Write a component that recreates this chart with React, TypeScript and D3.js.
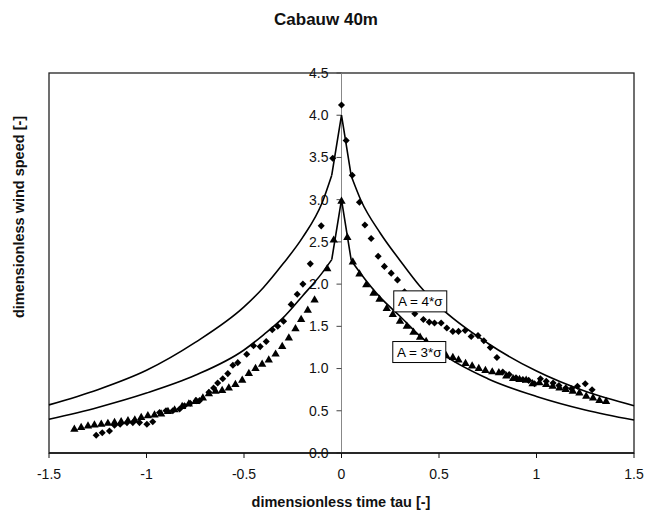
import React from "react";
import * as d3 from "d3";

const title = "Cabauw 40m";
const xTitle = "dimensionless time tau [-]";
const yTitle = "dimensionless wind speed [-]";

const xTicks = [-1.5, -1, -0.5, 0, 0.5, 1, 1.5];
const xTickLabels = ["-1.5", "-1", "-0.5", "0", "0.5", "1", "1.5"];
const yTicks = [0, 0.5, 1, 1.5, 2, 2.5, 3, 3.5, 4, 4.5];
const yTickLabels = ["0.0", "0.5", "1.0", "1.5", "2.0", "2.5", "3.0", "3.5", "4.0", "4.5"];

// model curves
const curveTau = [-1.5, -1.25, -1.0, -0.75, -0.5, -0.4, -0.3, -0.2, -0.1, -0.05, 0, 0.05, 0.1, 0.2, 0.3, 0.4, 0.5, 0.75, 1.0, 1.25, 1.5];
const curveA4 = [0.57, 0.75, 0.98, 1.31, 1.73, 1.96, 2.24, 2.55, 2.96, 3.29, 4.0, 3.28, 2.99, 2.6, 2.28, 1.98, 1.74, 1.3, 0.97, 0.73, 0.56];
const curveA3 = [0.4, 0.54, 0.71, 0.92, 1.22, 1.4, 1.6, 1.86, 2.13, 2.29, 3.0, 2.28, 2.12, 1.84, 1.62, 1.39, 1.2, 0.88, 0.67, 0.51, 0.39];

// measured points: diamonds
const diamondTau = [
  -1.258, -1.227, -1.19, -1.164, -1.135, -1.1, -1.07, -1.036, -0.998, -0.968, -0.933, -0.9, -0.865, -0.83, -0.805,
  -0.776, -0.745, -0.728, -0.68, -0.656, -0.635, -0.609, -0.583, -0.557, -0.532, -0.486, -0.451, -0.417, -0.386,
  -0.355, -0.327, -0.297, -0.258, -0.227, -0.198, -0.16, -0.104, -0.045, 0,
  0.024, 0.055, 0.092, 0.12, 0.152, 0.188, 0.22, 0.255, 0.287, 0.323, 0.349, 0.376, 0.42, 0.45, 0.477, 0.511, 0.54,
  0.571, 0.6, 0.634, 0.665, 0.7, 0.73, 0.763, 0.797, 0.827, 0.86, 0.895, 0.93, 0.96, 0.99, 1.02, 1.05, 1.085, 1.115,
  1.15, 1.18, 1.21, 1.25, 1.285,
];
const diamondVal = [
  0.21, 0.24, 0.26, 0.33, 0.34, 0.36, 0.36, 0.36, 0.34, 0.37, 0.48, 0.5, 0.5, 0.52, 0.56,
  0.59, 0.62, 0.62, 0.72, 0.77, 0.83, 0.88, 0.94, 1.04, 1.07, 1.17, 1.27, 1.26, 1.32,
  1.46, 1.5, 1.56, 1.76, 1.88, 2.0, 2.24, 2.69, 3.49, 4.12,
  3.7, 3.29, 2.97, 2.7, 2.54, 2.33, 2.21, 2.13, 2.05, 1.91, 1.77, 1.65, 1.58, 1.55, 1.54, 1.54, 1.48,
  1.44, 1.44, 1.45, 1.38, 1.39, 1.33, 1.25, 1.13, 0.96, 0.93, 0.89, 0.87, 0.86, 0.82, 0.88, 0.85, 0.83, 0.8,
  0.77, 0.76, 0.79, 0.82, 0.75,
];

// measured points: triangles
const triangleTau = [
  -1.37, -1.335, -1.3, -1.267, -1.232, -1.198, -1.164, -1.13, -1.095, -1.06, -1.027, -0.993, -0.959, -0.925, -0.89,
  -0.856, -0.817, -0.783, -0.749, -0.711, -0.68, -0.646, -0.612, -0.578, -0.544, -0.509, -0.475, -0.441, -0.407,
  -0.373, -0.338, -0.304, -0.27, -0.236, -0.207, -0.173, -0.138, -0.073, -0.04, 0,
  0.03, 0.058, 0.092, 0.127, 0.164, 0.195, 0.232, 0.263, 0.3, 0.335, 0.369, 0.403, 0.434, 0.47, 0.503, 0.537, 0.571,
  0.6, 0.636, 0.67, 0.704, 0.738, 0.773, 0.807, 0.845, 0.88, 0.913, 0.947, 0.98, 1.015, 1.05, 1.083, 1.118, 1.15,
  1.186, 1.22, 1.255, 1.29, 1.323, 1.357,
];
const triangleVal = [
  0.28, 0.3, 0.32, 0.33, 0.34, 0.35, 0.36, 0.37, 0.38, 0.39, 0.42, 0.44, 0.45, 0.46, 0.49,
  0.51, 0.55, 0.58, 0.61, 0.65, 0.7, 0.73, 0.74, 0.77, 0.81, 0.86, 0.94, 1.0, 1.05,
  1.1, 1.17, 1.26, 1.36, 1.47, 1.58, 1.69, 1.81, 2.18, 2.52, 2.98,
  2.55, 2.26, 2.12, 1.99, 1.89, 1.82, 1.71, 1.64, 1.56, 1.5, 1.43, 1.37, 1.32, 1.25, 1.2, 1.15, 1.13,
  1.1, 1.06, 1.03, 1.0, 0.975, 0.96, 0.95, 0.91, 0.88, 0.87, 0.86, 0.82, 0.83, 0.81, 0.79, 0.77, 0.75,
  0.73, 0.71, 0.67, 0.65, 0.62, 0.61,
];

const annotationText = ["A = 4*σ", "A = 3*σ"];
const annotationTau = [0.268, 0.263];
const annotationVal = [1.92, 1.32];

const W = 645;
const H = 510;
const FONT = "'Liberation Sans', Arial, Helvetica, sans-serif";

export default function App() {
  const x = d3.scaleLinear().domain([-1.5, 1.5]).range([49, 634]);
  const y = d3.scaleLinear().domain([0, 4.5]).range([453, 73]);

  const makeCurve = (vals: number[]) => {
    const pts = curveTau.map((t, i) => [t, vals[i]] as [number, number]);
    const left = pts.filter((p) => p[0] <= -0.05);
    const right = pts.filter((p) => p[0] >= 0.05);
    const mid = pts.filter((p) => p[0] >= -0.05 && p[0] <= 0.05);
    const smooth = d3
      .line<[number, number]>()
      .x((d) => x(d[0]))
      .y((d) => y(d[1]))
      .curve(d3.curveMonotoneX);
    const straight = d3
      .line<[number, number]>()
      .x((d) => x(d[0]))
      .y((d) => y(d[1]));
    return [smooth(left) || "", straight(mid) || "", smooth(right) || ""];
  };

  const curves = [makeCurve(curveA4), makeCurve(curveA3)];
  const diamond = d3.symbol(d3.symbolSquare, 25)() || "";
  const triangle = d3.symbol(d3.symbolTriangle, 30)() || "";

  const boxW = 53;
  const boxH = 21;

  return (
    <svg
      width={W}
      height={H}
      style={{ position: "absolute", left: 0, top: 0, background: "#fff" }}
      fontFamily={FONT}
    >
      <rect x={0} y={0} width={W} height={H} fill="#fff" />
      <text x={326} y={25} textAnchor="middle" fontSize={17} fontWeight="bold" fill="#111">
        {title}
      </text>

      {/* plot frame */}
      <rect x={x(-1.5)} y={y(4.5)} width={x(1.5) - x(-1.5)} height={y(0) - y(4.5)} fill="none" stroke="#222" strokeWidth={1.3} />

      {/* vertical axis at tau = 0 */}
      <line x1={x(0)} x2={x(0)} y1={y(0)} y2={y(4.5)} stroke="#888" strokeWidth={1} />
      {yTicks.map((t, i) => (
        <g key={"yt" + i}>
          <line x1={x(0) - 5} x2={x(0)} y1={y(t)} y2={y(t)} stroke="#444" strokeWidth={1} />
          <text x={x(0) - 13} y={y(t)} dy="0.35em" textAnchor="end" fontSize={14} fill="#111">
            {yTickLabels[i]}
          </text>
        </g>
      ))}

      {/* x axis */}
      <line x1={x(-1.5)} x2={x(1.5)} y1={y(0)} y2={y(0)} stroke="#111" strokeWidth={1.3} />
      {xTicks.map((t, i) => (
        <g key={"xt" + i}>
          <line x1={x(t)} x2={x(t)} y1={y(0)} y2={y(0) + 5} stroke="#111" strokeWidth={1} />
          <text x={x(t)} y={479} textAnchor="middle" fontSize={14} fill="#111">
            {xTickLabels[i]}
          </text>
        </g>
      ))}

      {/* model curves */}
      {curves.map((segs, ci) =>
        segs.map((d, si) => (
          <path key={"c" + ci + "-" + si} d={d} fill="none" stroke="#000" strokeWidth={1.6} strokeLinejoin="miter" />
        ))
      )}

      {/* data points */}
      {diamondTau.map((t, i) => (
        <path
          key={"d" + i}
          d={diamond}
          transform={`translate(${x(t)},${y(diamondVal[i])}) rotate(45)`}
          fill="#000"
        />
      ))}
      {triangleTau.map((t, i) => (
        <path key={"t" + i} d={triangle} transform={`translate(${x(t)},${y(triangleVal[i])})`} fill="#000" />
      ))}

      {/* annotation boxes */}
      {annotationText.map((s, i) => (
        <g key={"a" + i}>
          <rect
            x={x(annotationTau[i])}
            y={y(annotationVal[i])}
            width={boxW}
            height={boxH}
            fill="#fff"
            stroke="#000"
            strokeWidth={1}
          />
          <text
            x={x(annotationTau[i]) + boxW / 2}
            y={y(annotationVal[i]) + boxH / 2}
            dy="0.36em"
            textAnchor="middle"
            fontSize={13.5}
            fill="#000"
          >
            {s}
          </text>
        </g>
      ))}

      {/* axis titles */}
      <text x={341} y={507} textAnchor="middle" fontSize={14.5} fontWeight="bold" fill="#111">
        {xTitle}
      </text>
      <text
        transform={`translate(24,217) rotate(-90)`}
        textAnchor="middle"
        fontSize={14.5}
        fontWeight="bold"
        fill="#111"
      >
        {yTitle}
      </text>
    </svg>
  );
}
